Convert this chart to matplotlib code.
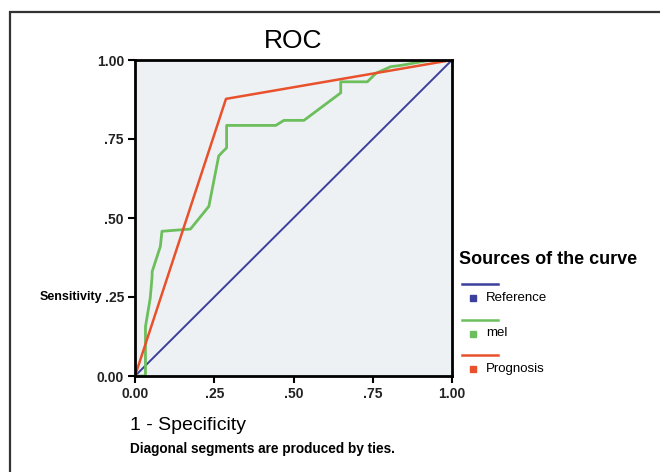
import matplotlib.pyplot as plt
from matplotlib.lines import Line2D
from matplotlib.patches import Rectangle

plt.rcParams['font.family'] = ['Liberation Sans', 'DejaVu Sans']

# ROC curve coordinates
ref_x = [0.0, 1.0]
ref_y = [0.0, 1.0]

mel_x = [0.0, 0.033, 0.033, 0.048, 0.054, 0.054, 0.080, 0.085, 0.175, 0.233, 0.264,
         0.275, 0.289, 0.289, 0.444, 0.470, 0.533, 0.649, 0.649, 0.733, 0.760,
         0.807, 0.839, 0.934, 1.0]
mel_y = [0.0, 0.0, 0.156, 0.246, 0.315, 0.330, 0.410, 0.458, 0.465, 0.537, 0.696,
         0.708, 0.722, 0.793, 0.793, 0.809, 0.809, 0.896, 0.931, 0.931, 0.958,
         0.979, 0.983, 1.0, 1.0]

prog_x = [0.0, 0.287, 1.0]
prog_y = [0.0, 0.877, 1.0]

ticks = [0.0, 0.25, 0.5, 0.75, 1.0]
tick_labels = ['0.00', '.25', '.50', '.75', '1.00']

names = ['Reference', 'mel', 'Prognosis']
colors = ['#3c3f9c', '#6cbf5c', '#e8512b']

W, H = 660, 472
fig = plt.figure(figsize=(W / 100, H / 100), dpi=100)
fig.patch.set_facecolor('white')

# outer frame (cropped at right and bottom)
fig.add_artist(Rectangle((10 / W, -0.1), 1.2, (H - 12) / H + 0.1, transform=fig.transFigure,
                         fill=False, edgecolor='#333333', linewidth=1.6))

ax = fig.add_axes([135 / W, (H - 376) / H, 317 / W, 316 / H])
ax.set_facecolor('#eef1f4')

ax.plot(ref_x, ref_y, color=colors[0], lw=1.4)
ax.plot(mel_x, mel_y, color=colors[1], lw=2.0)
ax.plot(prog_x, prog_y, color=colors[2], lw=1.8)

ax.set_xlim(0, 1)
ax.set_ylim(0, 1)
ax.set_xticks(ticks)
ax.set_xticklabels(tick_labels)
ax.set_yticks(ticks)
ax.set_yticklabels(tick_labels)
ax.tick_params(direction='out', length=5, width=1.5, labelsize=10, pad=3)
for lab in ax.get_xticklabels() + ax.get_yticklabels():
    lab.set_fontweight('bold')
    lab.set_color('#222222')
for s in ax.spines.values():
    s.set_linewidth(2)

ax.set_title('ROC', fontsize=19, pad=9)

def px(x, y):
    return x / W, 1 - y / H

fig.text(*px(102, 297), 'Sensitivity', ha='right', va='center', fontsize=9, fontweight='bold')
fig.text(*px(130, 425), '1 - Specificity', ha='left', va='center', fontsize=14)
fig.text(*px(130, 449), 'Diagonal segments are produced by ties.', ha='left', va='center',
         fontsize=9.8, fontweight='bold')

# legend
fig.text(*px(459, 259), 'Sources of the curve', ha='left', va='center', fontsize=13, fontweight='bold')
for i, (name, c) in enumerate(zip(names, colors)):
    yl = 284 + i * 35.5
    ym = yl + 14
    fig.add_artist(Line2D([462 / W, 498 / W], [1 - yl / H, 1 - yl / H], color=c, lw=1.8,
                          transform=fig.transFigure))
    fig.add_artist(Line2D([473 / W], [1 - ym / H], marker='s', markersize=4, color=c,
                          linestyle='none', transform=fig.transFigure))
    fig.text(*px(486, ym), name, ha='left', va='center', fontsize=9.5)

fig.savefig('out.png', dpi=100)
